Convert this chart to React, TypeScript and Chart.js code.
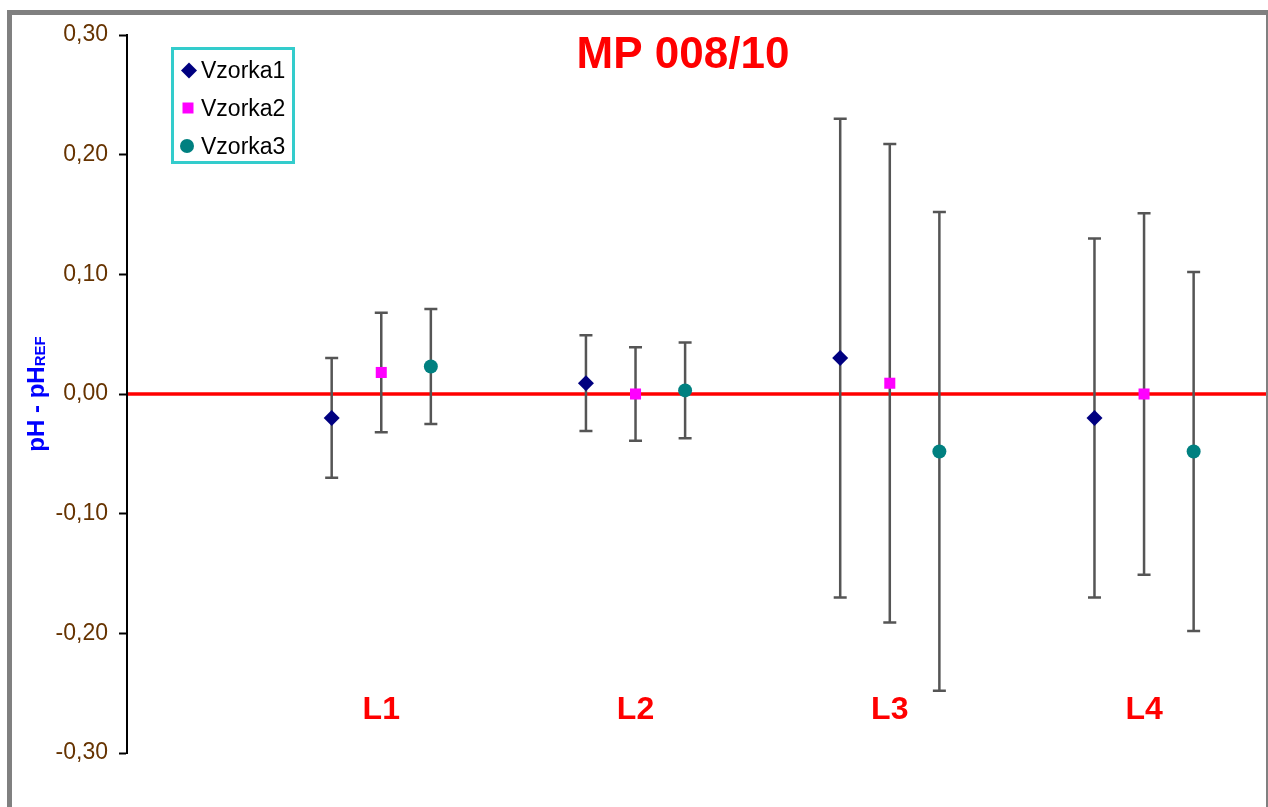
import React, { useEffect, useRef } from "react";
import { Chart, registerables } from "chart.js";

Chart.register(...registerables);

// ---- data ----
const categories = ["L1", "L2", "L3", "L4"];
const seriesNames = ["Vzorka1", "Vzorka2", "Vzorka3"];
const seriesOffsets = [-0.195, 0, 0.195];
const vzorka1 = [-0.02, 0.009, 0.03, -0.02];
const vzorka2 = [0.018, 0, 0.009, 0];
const vzorka3 = [0.023, 0.003, -0.048, -0.048];
const err1 = [0.05, 0.04, 0.2, 0.15];
const err2 = [0.05, 0.039, 0.2, 0.151];
const err3 = [0.048, 0.04, 0.2, 0.15];
const yTicks = [-0.3, -0.2, -0.1, 0, 0.1, 0.2, 0.3];
const chartTitle = "MP 008/10";
const yTitleMain = "pH - pH";
const yTitleSub = "REF";

const seriesValues = [vzorka1, vzorka2, vzorka3];
const seriesErrors = [err1, err2, err3];
const seriesColors = ["#000080", "#FF00FF", "#008080"];
const seriesShapes = ["rectRot", "rect", "circle"];
const seriesRadius = [8, 7.8, 7];

const FONT = "'Liberation Sans', Arial, Helvetica, sans-serif";

function drawMarker(ctx: CanvasRenderingContext2D, shape: string, x: number, y: number, color: string) {
  ctx.fillStyle = color;
  ctx.beginPath();
  if (shape === "rectRot") {
    const r = 8;
    ctx.moveTo(x, y - r);
    ctx.lineTo(x + r, y);
    ctx.lineTo(x, y + r);
    ctx.lineTo(x - r, y);
    ctx.closePath();
  } else if (shape === "rect") {
    ctx.rect(x - 5.5, y - 5.5, 11, 11);
  } else {
    ctx.arc(x, y, 7, 0, Math.PI * 2);
  }
  ctx.fill();
}

const overlayPlugin = {
  id: "overlayPlugin",
  beforeDatasetsDraw(chart: any) {
    const { ctx, chartArea, scales } = chart;
    const xs = scales.x;
    const ys = scales.y;
    ctx.save();
    // zero reference line
    const y0 = ys.getPixelForValue(0);
    ctx.strokeStyle = "#FF0000";
    ctx.lineWidth = 3.5;
    ctx.beginPath();
    ctx.moveTo(chartArea.left + 1, y0);
    ctx.lineTo(chart.width - 1, y0);
    ctx.stroke();
    // error bars
    ctx.strokeStyle = "#555555";
    ctx.lineWidth = 2.5;
    seriesValues.forEach((vals, i) => {
      vals.forEach((v, j) => {
        const px = xs.getPixelForValue(j + 1 + seriesOffsets[i]);
        const top = ys.getPixelForValue(v + seriesErrors[i][j]);
        const bot = ys.getPixelForValue(v - seriesErrors[i][j]);
        ctx.beginPath();
        ctx.moveTo(px, top);
        ctx.lineTo(px, bot);
        ctx.moveTo(px - 6.5, top);
        ctx.lineTo(px + 6.5, top);
        ctx.moveTo(px - 6.5, bot);
        ctx.lineTo(px + 6.5, bot);
        ctx.stroke();
      });
    });
    ctx.restore();
  },
  afterDraw(chart: any) {
    const { ctx, scales } = chart;
    const xs = scales.x;
    const ys = scales.y;
    ctx.save();
    // title
    ctx.fillStyle = "#FF0000";
    ctx.font = `bold 44px ${FONT}`;
    ctx.textAlign = "center";
    ctx.textBaseline = "alphabetic";
    ctx.fillText(chartTitle, 683, 68);
    // category labels
    ctx.font = `bold 32px ${FONT}`;
    categories.forEach((c, j) => {
      ctx.fillText(c, xs.getPixelForValue(j + 1), ys.getPixelForValue(-0.2715));
    });
    // y axis title
    ctx.save();
    ctx.translate(44, 394);
    ctx.rotate(-Math.PI / 2);
    ctx.fillStyle = "#0000FF";
    ctx.textAlign = "left";
    ctx.font = `bold 24px ${FONT}`;
    const wMain = ctx.measureText(yTitleMain).width;
    ctx.font = `bold 15px ${FONT}`;
    const wSub = ctx.measureText(yTitleSub).width;
    const start = -(wMain + wSub) / 2;
    ctx.font = `bold 24px ${FONT}`;
    ctx.fillText(yTitleMain, start, 0);
    ctx.font = `bold 15px ${FONT}`;
    ctx.fillText(yTitleSub, start + wMain, 1);
    ctx.restore();
    // legend
    ctx.strokeStyle = "#33CCCC";
    ctx.lineWidth = 3;
    ctx.strokeRect(172.5, 48.5, 121, 114);
    ctx.font = `23px ${FONT}`;
    ctx.textAlign = "left";
    const markerY = [70.5, 108, 146];
    const textY = [77.5, 115.5, 154];
    const markerX = [189, 188, 187];
    seriesNames.forEach((n, i) => {
      drawMarker(ctx, seriesShapes[i], markerX[i], markerY[i], seriesColors[i]);
      ctx.fillStyle = "#000000";
      ctx.fillText(n, 201, textY[i]);
    });
    ctx.restore();
  },
};

export default function App() {
  const canvasRef = useRef<HTMLCanvasElement | null>(null);

  useEffect(() => {
    if (!canvasRef.current) return;
    const datasets = seriesNames.map((name, i) => ({
      label: name,
      data: seriesValues[i].map((v, j) => ({ x: j + 1 + seriesOffsets[i], y: v })),
      backgroundColor: seriesColors[i],
      borderColor: seriesColors[i],
      borderWidth: 0,
      pointStyle: seriesShapes[i] as any,
      pointRadius: seriesRadius[i],
      pointHoverRadius: seriesRadius[i],
      showLine: false,
    }));
    const chart = new Chart(canvasRef.current, {
      type: "scatter",
      data: { datasets },
      options: {
        responsive: false,
        animation: false,
        devicePixelRatio: 1,
        layout: { padding: { left: 0, top: 35, right: 1, bottom: 54 } },
        plugins: {
          legend: { display: false },
          tooltip: { enabled: false },
          title: { display: false },
        },
        scales: {
          x: {
            type: "linear",
            min: 0,
            max: 4.456,
            display: false,
          },
          y: {
            type: "linear",
            min: -0.3,
            max: 0.3,
            afterBuildTicks: (scale: any) => {
              scale.ticks = yTicks.map((v) => ({ value: v }));
            },
            afterFit: (scale: any) => {
              scale.width = 127;
            },
            grid: {
              drawOnChartArea: false,
              drawTicks: true,
              tickLength: 8,
              tickColor: "#000000",
              tickWidth: 2,
              color: "#000000",
            },
            border: { display: true, color: "#000000", width: 2 },
            ticks: {
              padding: 11,
              color: "#663300",
              font: { family: FONT, size: 23 },
              callback: (v: any) => {
                const n = Math.abs(Number(v)) < 1e-9 ? 0 : Number(v);
                return n.toFixed(2).replace(".", ",");
              },
            },
          },
        },
      },
      plugins: [overlayPlugin],
    });
    return () => chart.destroy();
  }, []);

  return (
    <div
      style={{
        position: "fixed",
        left: 0,
        top: 0,
        width: 1268,
        height: 807,
        overflow: "hidden",
        background: "#ffffff",
      }}
    >
      <canvas ref={canvasRef} width={1268} height={807} style={{ display: "block" }} />
      <div
        style={{
          position: "absolute",
          left: 7,
          top: 10,
          right: 0,
          bottom: -20,
          borderLeft: "5px solid #808080",
          borderTop: "5px solid #808080",
          borderRight: "2px solid #808080",
          pointerEvents: "none",
        }}
      />
    </div>
  );
}
